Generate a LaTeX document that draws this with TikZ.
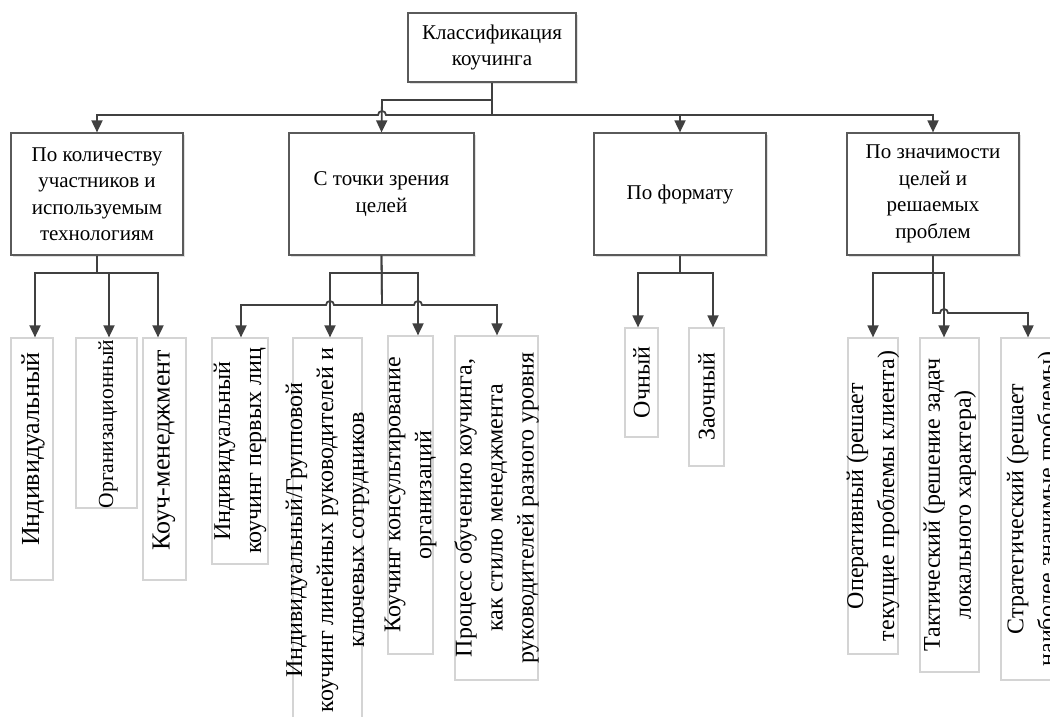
\documentclass[tikz,border=0pt]{standalone}
\usepackage{fontspec}
\setmainfont{Liberation Serif}
\usepackage{tikz}
\usetikzlibrary{arrows.meta, shadows}
\definecolor{line}{RGB}{64, 64, 64}
\definecolor{frame}{RGB}{90, 90, 90}
\definecolor{pale}{RGB}{212, 212, 212}

\tikzset{
  conn/.style={draw=line, line width=1.8pt, >={Triangle[width=11pt, length=12pt]}},
  headbox/.style={draw=frame, line width=1.2pt, fill=white, align=center, inner sep=0pt,
    font=\fontsize{21}{26.5}\selectfont,
    general shadow={fill=black!12, shadow xshift=2pt, shadow yshift=-2pt}},
  leafbox/.style={draw=pale, line width=1.2pt, inner sep=0pt},
  leaftext/.style={rotate=90, align=center, inner sep=0pt, font=\fontsize{24}{31}\selectfont}
}

\begin{document}
\begin{tikzpicture}[x=1pt, y=-1pt]
  \useasboundingbox (0, 0) rectangle (1050, 717);
  \clip (0, 0) rectangle (1050, 717);

  % root and first level
  \node[headbox, minimum width=168, minimum height=69] (root) at (492, 47.5) {Классификация\\коучинга};
  \node[headbox, minimum width=172, minimum height=122] (k1) at (97, 194) {По количеству\\участников и\\используемым\\технологиям};
  \node[headbox, minimum width=185, minimum height=122] (k2) at (381.5, 194) {С точки зрения\\целей};
  \node[headbox, minimum width=172, minimum height=122] (k3) at (680, 194) {По формату};
  \node[headbox, minimum width=172, minimum height=122] (k4) at (933, 194) {По значимости\\целей и\\решаемых\\проблем};

  % leaf boxes: name/left/right/top/bottom
  \foreach \n/\l/\r/\t/\b in {c11/11/53/338/580, c12/76/137/338/508, c13/143/186/338/580,
      c21/212/268/338/564, c22/293/362/338/722, c23/388/433/336/654, c24/455/538/336/680,
      c31/625/658/328/437, c32/689/724/328/466,
      c41/848/898/338/654, c42/920/979/338/672, c43/1001/1059/338/680} {
    \node[leafbox, minimum width={\r-\l}, minimum height={\b-\t}] (\n) at ({(\l+\r)/2}, {(\t+\b)/2}) {};
  }

  \node[leaftext, font=\fontsize{26}{31}\selectfont] (t11) at (33, 449) {Индивидуальный};
  \node[leaftext, font=\fontsize{21.5}{31}\selectfont] (t12) at (108, 424) {Организационный};
  \node[leaftext, font=\fontsize{26}{31}\selectfont] (t13) at (164, 450) {Коуч-менеджмент};
  \node[leaftext] (t21) at (c21) {Индивидуальный\\коучинг первых лиц};
  \node[leaftext] (t22) at (c22) {Индивидуальный/Групповой\\коучинг линейных руководителей и\\ключевых сотрудников};
  \node[leaftext] (t23) at (c23) {Коучинг консультирование\\организаций};
  \node[leaftext] (t24) at (c24) {Процесс обучению коучинга,\\как стилю менеджмента\\руководителей разного уровня};
  \node[leaftext] (t31) at (c31) {Очный};
  \node[leaftext] (t32) at (c32) {Заочный};
  \node[leaftext] (t41) at (c41) {Оперативный (решает\\текущие проблемы клиента)};
  \node[leaftext] (t42) at (c42) {Тактический (решение задач\\локального характера)};
  \node[leaftext] (t43) at (1033, 509) {Стратегический (решает\\наиболее значимые проблемы)};

  % root to first level
  \coordinate (bus) at (492, 115);
  \coordinate (fork) at (492, 100);
  \draw[conn] (root.south) -- (bus);
  \draw[conn, ->] (bus) -- (386, 115) arc[start angle=0, end angle=-180, radius=4] -- (97, 115) -- (k1.north);
  \draw[conn, ->] (fork) -- (382, 100) -- (k2.north);
  \draw[conn, ->] (bus) -| (k3.north);
  \draw[conn, ->] (bus) -| (k4.north);

  % first level to leaves
  \foreach \n/\x in {c11/35, c12/109, c13/158}
    \draw[conn, ->] (k1.south) |- (\x, 273) -- (\n.north -| \x, 0);

  \draw[conn, ->] (k2.south) |- (330, 273) -- (c22.north -| 330, 0);
  \draw[conn, ->] (k2.south) |- (418, 273) -- (c23.north -| 418, 0);
  \draw[conn, ->] (k2.south) -- (382, 305) -- (334, 305) arc[start angle=0, end angle=-180, radius=4] -- (241, 305) -- (c21.north -| 241, 0);
  \draw[conn, ->] (k2.south) -- (382, 305) -- (414, 305) arc[start angle=180, end angle=360, radius=4] -- (497, 305) -- (c24.north -| 497, 0);

  \foreach \n/\x in {c31/638, c32/713}
    \draw[conn, ->] (k3.south) |- (\x, 273) -- (\n.north -| \x, 0);

  \draw[conn, ->] (k4.south) |- (873, 273) -- (c41.north -| 873, 0);
  \draw[conn, ->] (k4.south) |- (944, 273) -- (c42.north -| 944, 0);
  \draw[conn, ->] (k4.south) -- (933, 313) -- (940, 313) arc[start angle=180, end angle=360, radius=4] -- (1028, 313) -- (c43.north -| 1028, 0);
\end{tikzpicture}
\end{document}
